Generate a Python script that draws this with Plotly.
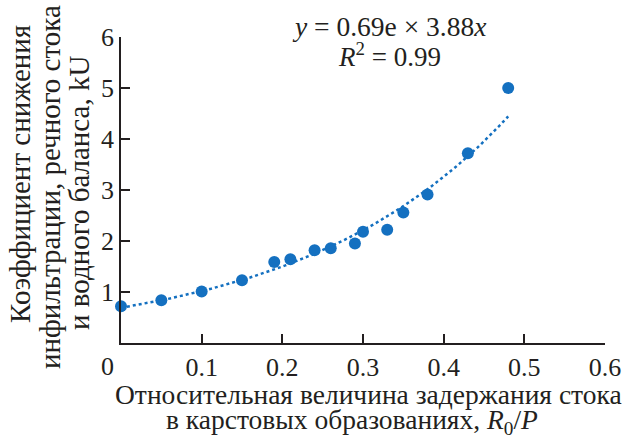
import numpy as np
import plotly.graph_objects as go

x_vals = [0.0, 0.05, 0.10, 0.15, 0.19, 0.21, 0.24, 0.26, 0.29, 0.30, 0.33, 0.35, 0.38, 0.43, 0.48]
y_vals = [0.72, 0.84, 1.01, 1.23, 1.59, 1.64, 1.82, 1.86, 1.95, 2.18, 2.22, 2.56, 2.91, 3.72, 5.0]
fit_a = 0.69
fit_b = 3.88
x_ticks = [0.1, 0.2, 0.3, 0.4, 0.5, 0.6]
y_ticks = [1, 2, 3, 4, 5, 6]

x_title = ["Относительная величина задержания стока",
           "в карстовых образованиях, <i>R</i><sub>0</sub>/<i>P</i>"]
y_title = ["Коэффициент снижения",
           "инфильтрации, речного стока",
           "и водного баланса, kU"]

color = "#1470c0"
ink = "#231f20"
font = "Liberation Serif"
W, H = 623, 437
L, R, T, B = 121, 18, 37, 94
pw, ph = W - L - R, H - T - B


def px(xp):
    return (xp - L) / pw


def py(yp):
    return 1 - (yp - T) / ph


xf = np.linspace(min(x_vals), max(x_vals), 100)
yf = fit_a * np.exp(fit_b * xf)

fig = go.Figure()
fig.add_trace(go.Scatter(x=xf, y=yf, mode="lines",
                         line=dict(color=color, width=2.5, dash="dot"),
                         hoverinfo="skip", showlegend=False))
fig.add_trace(go.Scatter(x=x_vals, y=y_vals, mode="markers",
                         marker=dict(color=color, size=12),
                         showlegend=False, cliponaxis=False))

axis_common = dict(ticks="inside", ticklen=9, tickwidth=1.5, tickcolor=ink,
                   showline=True, linecolor=ink, linewidth=1.5, mirror=False,
                   showgrid=False, zeroline=False, automargin=False,
                   tickfont=dict(size=26, family=font, color=ink))


def ann(text, xc, yc, size=26, angle=0):
    return dict(text=text, x=px(xc), y=py(yc), xref="paper", yref="paper",
                xanchor="center", yanchor="middle", showarrow=False,
                textangle=angle, font=dict(size=size, family=font, color=ink))


annotations = [
    ann("0", 107, 366, 26),
    ann("<i>y</i> = 0.69e × 3.88<i>x</i>", 389, 27, 27.5),
    ann("<i>R</i><sup>2</sup> = 0.99", 389, 55, 27),
    ann(x_title[0], 368, 394, 27.5),
    ann(x_title[1], 352, 421, 27.5),
]
for txt, xc, yc in zip(y_title, [20, 50, 79], [174, 187, 193]):
    annotations.append(ann(txt, xc, yc, 29, -90))

fig.update_layout(
    template="simple_white",
    width=W, height=H,
    margin=dict(l=L, r=R, t=T, b=B),
    paper_bgcolor="white", plot_bgcolor="white",
    font=dict(family=font, size=26, color=ink),
    xaxis=dict(range=[0, 0.6], tickvals=x_ticks, ticktext=[str(v) for v in x_ticks],
               **axis_common),
    yaxis=dict(range=[0, 6], tickvals=y_ticks, **axis_common),
    annotations=annotations,
)
fig.write_html("out.html", config={"displayModeBar": False},
               post_script="document.body.style.margin='0';document.body.style.overflow='hidden';")
